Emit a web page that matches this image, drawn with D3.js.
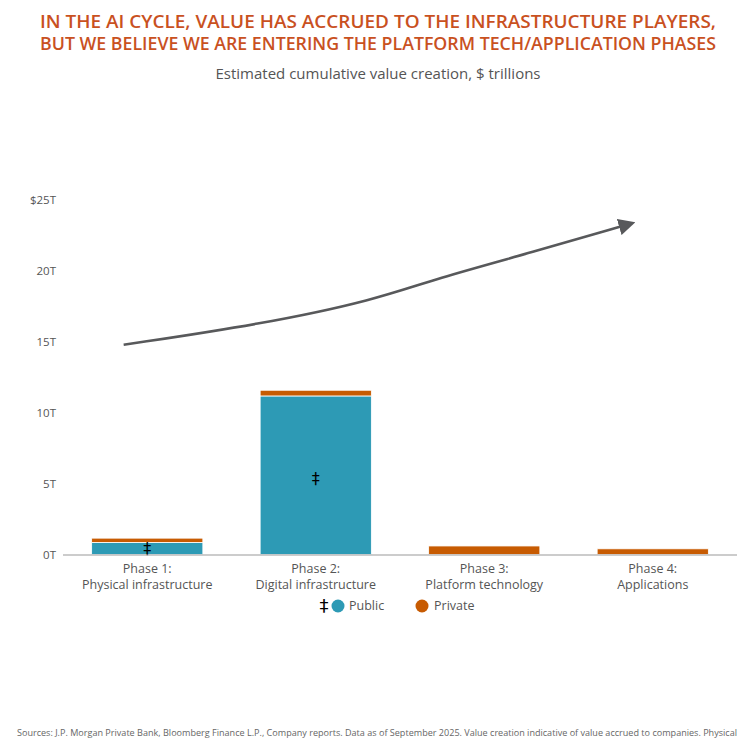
<!DOCTYPE html>
<html>
<head>
<meta charset="utf-8">
<style>
  body { margin: 0; background: #fff; }
  text { font-family: "Open Sans", sans-serif; }
</style>
</head>
<body>
<div id="chart"></div>
<script src="https://cdn.jsdelivr.net/npm/d3@7"></script>
<script>
// data
var phases = ["Phase 1:|Physical infrastructure", "Phase 2:|Digital infrastructure",
              "Phase 3:|Platform technology", "Phase 4:|Applications"];
var publicVals  = [0.85, 11.15, 0, 0];
var privateVals = [0.3, 0.4, 0.6, 0.4];
var yTicks = [0, 5, 10, 15, 20, 25];
var yTickLabels = ["0T", "5T", "10T", "15T", "20T", "$25T"];
// arrow path, in [phase position, $T]
var arrowPts = [[-0.14, 14.75], [0.68, 16.2], [1.35, 17.9], [1.71, 19.4], [2.3, 21.3], [2.82, 23.1]];

var W = 756, H = 745;
var margin = {left: 63, right: 19, top: 199, zero: 554.5};

var svg = d3.select("#chart").append("svg")
    .attr("width", W).attr("height", H);

var teal = "#2D9AB5", orange = "#C75B02", grey = "#58595B";

// title
var title = svg.append("text")
    .attr("x", W / 2).attr("text-anchor", "middle")
    .attr("fill", "#C9511F").style("font-size", "17.5px").style("font-weight", 600);
title.append("tspan").attr("x", W / 2).attr("y", 28)
    .text("IN THE AI CYCLE, VALUE HAS ACCRUED TO THE INFRASTRUCTURE PLAYERS,");
title.append("tspan").attr("x", W / 2).attr("y", 50)
    .text("BUT WE BELIEVE WE ARE ENTERING THE PLATFORM TECH/APPLICATION PHASES");
title.selectAll("tspan").attr("textLength", 676).attr("lengthAdjust", "spacingAndGlyphs");

svg.append("text")
    .attr("x", 378).attr("y", 79).attr("text-anchor", "middle")
    .attr("fill", "#555").style("font-size", "15px")
    .text("Estimated cumulative value creation, $ trillions");

// scales
var x = d3.scaleBand().domain(d3.range(phases.length))
    .range([63, 737]).paddingInner(0.34).paddingOuter(0.17);
var xPos = d3.scaleLinear().domain([0, 3])
    .range([x(0) + x.bandwidth() / 2, x(3) + x.bandwidth() / 2]);
var y = d3.scaleLinear().domain([0, 25]).range([margin.zero, margin.top]);

// y labels
var yAxis = d3.axisLeft(y).tickValues(yTicks)
    .tickFormat(function(d, i) { return yTickLabels[i]; }).tickSize(0).tickPadding(0);
var gy = svg.append("g").attr("transform", "translate(56,0)").call(yAxis);
gy.select(".domain").remove();
gy.selectAll("text").attr("fill", "#555").style("font-size", "11.5px")
    .style("font-family", "'Open Sans', sans-serif").attr("dy", "0.35em");

// bars
var stacked = phases.map(function(p, i) {
    return {i: i, pub: publicVals[i], priv: privateVals[i]};
});
var g = svg.append("g");
g.selectAll(".pub").data(stacked).enter().append("rect")
    .attr("x", function(d) { return x(d.i); })
    .attr("width", x.bandwidth())
    .attr("y", function(d) { return y(d.pub); })
    .attr("height", function(d) { return y(0) - y(d.pub); })
    .attr("fill", teal).attr("stroke", "#fff").attr("stroke-width", 0.8);
g.selectAll(".priv").data(stacked).enter().append("rect")
    .attr("x", function(d) { return x(d.i); })
    .attr("width", x.bandwidth())
    .attr("y", function(d) { return y(d.pub + d.priv); })
    .attr("height", function(d) { return y(d.pub) - y(d.pub + d.priv); })
    .attr("fill", orange).attr("stroke", "#fff").attr("stroke-width", 0.8);

// double dagger markers
g.selectAll(".dag").data(stacked.filter(function(d) { return d.pub > 0; })).enter()
    .append("text")
    .attr("x", function(d) { return x(d.i) + x.bandwidth() / 2; })
    .attr("y", function(d) { return d.pub > 2 ? y(d.pub / 2) + 3 : y(d.pub / 2); })
    .attr("dy", "0.33em").attr("text-anchor", "middle")
    .attr("fill", "#000").style("font-size", "16px").style("font-family", "'DejaVu Sans', sans-serif")
    .text("\u2021");

// baseline
svg.append("line").attr("x1", 63).attr("x2", 737)
    .attr("y1", y(0) + 0.5).attr("y2", y(0) + 0.5)
    .attr("stroke", "#999").attr("stroke-width", 1.2);

// x labels
var xl = svg.selectAll(".xl").data(phases).enter().append("text")
    .attr("text-anchor", "middle").attr("fill", "#555").style("font-size", "12.5px");
xl.each(function(d, i) {
    var parts = d.split("|");
    var t = d3.select(this);
    parts.forEach(function(p, k) {
        t.append("tspan").attr("x", x(i) + x.bandwidth() / 2)
            .attr("y", 573 + k * 16).text(p);
    });
});

// arrow
svg.append("defs").append("marker")
    .attr("id", "arrowhead").attr("viewBox", "0 0 10 10")
    .attr("refX", 2).attr("refY", 5)
    .attr("markerWidth", 6.5).attr("markerHeight", 6.5)
    .attr("orient", "auto")
    .append("path").attr("d", "M0,0 L10,5 L0,10 z").attr("fill", grey);

var line = d3.line().curve(d3.curveBasis)
    .x(function(d) { return xPos(d[0]); })
    .y(function(d) { return y(d[1]); });
svg.append("path").datum(arrowPts)
    .attr("d", line).attr("fill", "none")
    .attr("stroke", grey).attr("stroke-width", 2.6)
    .attr("marker-end", "url(#arrowhead)");

// legend
var lg = svg.append("g").attr("transform", "translate(0,606)");
lg.append("text").attr("x", 324).attr("y", 0).attr("dy", "0.35em")
    .attr("text-anchor", "middle").attr("fill", "#000")
    .style("font-size", "18px").style("font-family", "'DejaVu Sans', sans-serif").text("\u2021");
lg.append("circle").attr("cx", 338).attr("cy", 0).attr("r", 6.5).attr("fill", teal);
lg.append("text").attr("x", 349).attr("y", 0).attr("dy", "0.35em")
    .attr("fill", "#555").style("font-size", "12.5px").text("Public");
lg.append("circle").attr("cx", 422).attr("cy", 0).attr("r", 6.5).attr("fill", orange);
lg.append("text").attr("x", 434).attr("y", 0).attr("dy", "0.35em")
    .attr("fill", "#555").style("font-size", "12.5px").text("Private");

// source
svg.append("text").attr("x", 17).attr("y", 736)
    .attr("fill", "#666").style("font-size", "9px")
    .attr("textLength", 720).attr("lengthAdjust", "spacingAndGlyphs")
    .text("Sources: J.P. Morgan Private Bank, Bloomberg Finance L.P., Company reports. Data as of September 2025. Value creation indicative of value accrued to companies. Physical");
</script>
</body>
</html>
